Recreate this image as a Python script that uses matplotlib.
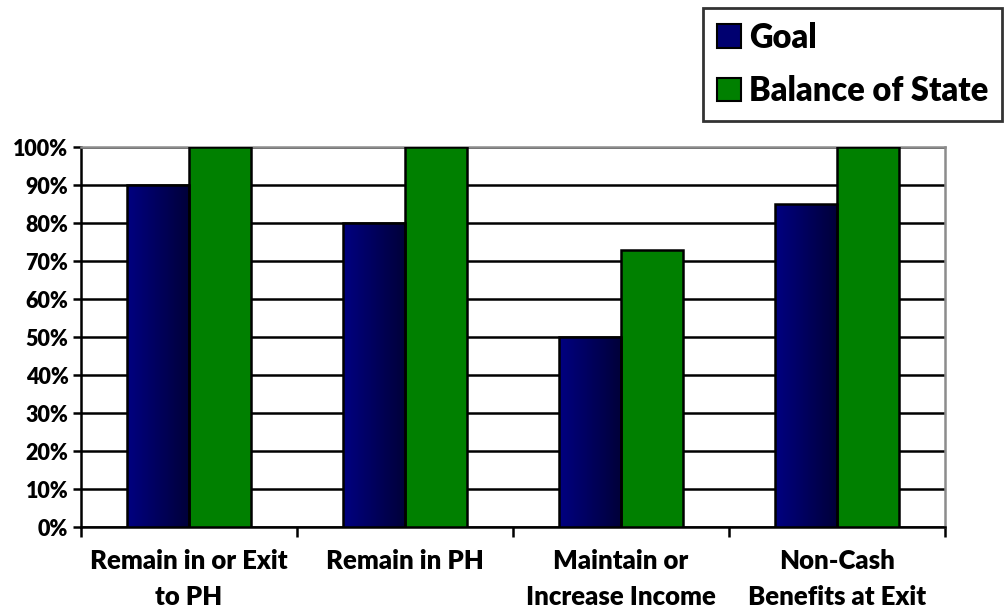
import matplotlib.pyplot as plt
import numpy as np
from matplotlib.patches import Patch
from matplotlib.colors import LinearSegmentedColormap

plt.rcParams['font.family'] = ['Lato', 'DejaVu Sans']
plt.rcParams['font.weight'] = 'heavy'

categories = ["Remain in or Exit\nto PH", "Remain in PH", "Maintain or\nIncrease Income", "Non-Cash\nBenefits at Exit"]
goal = [90, 80, 50, 85]
balance = [100, 100, 73, 100]
yticks = [0, 10, 20, 30, 40, 50, 60, 70, 80, 90, 100]

fig = plt.figure(figsize=(10.06, 6.10), dpi=100)
ax = fig.add_axes([81/1006, 83/610, 864/1006, 380/610])

x = np.arange(len(categories))
w = 62/216

# gradient for the goal bars (navy -> dark)
cmap = LinearSegmentedColormap.from_list("navy", ["#000080", "#00003a"])
grad = np.linspace(0, 1, 64).reshape(1, -1)

bars_g = ax.bar(x - w/2, goal, w, color='none', edgecolor='black', linewidth=1.8, zorder=4)
for b in bars_g:
    x0, y0 = b.get_x(), b.get_y()
    ax.imshow(grad, cmap=cmap, aspect='auto', extent=[x0, x0 + b.get_width(), y0, y0 + b.get_height()],
              zorder=3, interpolation='bilinear')
ax.bar(x + w/2, balance, w, color='#008000', edgecolor='black', linewidth=1.8, zorder=3)

ax.set_xlim(-0.5, len(categories) - 0.5)
ax.set_ylim(0, 100)
ax.set_yticks(yticks)
ax.set_yticklabels([f"{t}%" for t in yticks], fontsize=15.5, fontweight='heavy')
ax.set_xticks(np.arange(len(categories) + 1) - 0.5)
ax.set_xticklabels([])
ax.set_xticks(x, minor=True)
ax.set_xticklabels(categories, minor=True, fontsize=18.5, fontweight='heavy', linespacing=1.6)
ax.tick_params(axis='x', which='minor', length=0, pad=16)
ax.tick_params(axis='x', which='major', length=7, width=1.8, color='black')
ax.tick_params(axis='y', length=6, width=1.8, color='black', pad=3)

ax.yaxis.grid(True, color='black', linewidth=1.8, zorder=1)
ax.set_axisbelow(True)
for s in ['top', 'right']:
    ax.spines[s].set_color('#8c8c8c')
    ax.spines[s].set_linewidth(1.8)
for s in ['left', 'bottom']:
    ax.spines[s].set_color('black')
    ax.spines[s].set_linewidth(1.8)

handles = [Patch(facecolor='#000070', edgecolor='black', linewidth=1.5, label='Goal'),
           Patch(facecolor='#008000', edgecolor='black', linewidth=1.5, label='Balance of State')]
leg = fig.legend(handles=handles, loc='upper left', bbox_to_anchor=(703/1006, 1 - 8/610),
                 prop={'weight': 'heavy', 'size': 23.5}, frameon=True, fancybox=False,
                 handlelength=0.75, handleheight=0.75, handletextpad=0.25, borderpad=0.42,
                 labelspacing=0.65, borderaxespad=0)
leg.get_frame().set_edgecolor('black')
leg.get_frame().set_linewidth(2)

fig.savefig("out.png", dpi=100)
